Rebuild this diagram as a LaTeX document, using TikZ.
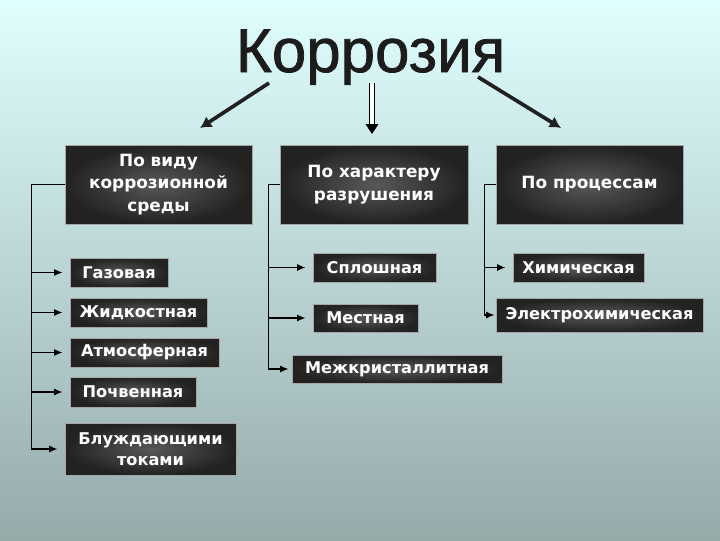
\documentclass[tikz,border=0pt]{standalone}
\usepackage{fontspec}
\setmainfont{DejaVu Sans}
\newfontfamily\titlefont[FakeBold=1.2]{Liberation Sans}
\usetikzlibrary{arrows.meta}

\definecolor{bgtop}{RGB}{224,255,255}
\definecolor{bgbot}{RGB}{150,170,170}
\definecolor{boxin}{RGB}{88,88,88}
\definecolor{boxout}{RGB}{34,34,34}
\newcommand\pxu{0.025cm}

\tikzset{
  box/.style={inner color=boxin, outer color=boxout, draw=gray!70,
    line width=0.6pt, text=white, align=center, inner sep=0pt,
    font=\bfseries\fontsize{11.5}{15}\selectfont},
  headbox/.style={box, minimum height=79*\pxu,
    font=\bfseries\fontsize{12}{16}\selectfont},
  conn/.style={line width=1pt, -{Latex[length=6pt,width=5pt]}, shorten >=7*\pxu},
  bigarrow/.style={line width=2.6pt, gray!25!black, -{Latex[length=8pt,width=9pt]}}
}

\begin{document}
\begin{tikzpicture}[x=\pxu, y=-\pxu]
    % Background
    \shade[top color=bgtop, bottom color=bgbot] (0,0) rectangle (720,540);

    % Title
    \node (title) at (370.5,72) [anchor=base, text=gray!22!black,
        font=\titlefont\fontsize{44}{48}\selectfont] {Коррозия};

    % Title arrows
    \coordinate (t1) at (269,83);
    \coordinate (a1) at (200,128);
    \coordinate (t2) at (372,83);
    \coordinate (a2) at (372,134);
    \coordinate (t3) at (478,77);
    \coordinate (a3) at (561,128);
    \draw[bigarrow] (t1) -- (a1);
    \draw[bigarrow] (t3) -- (a3);
    \draw[double, double distance=3pt, line width=0.7pt, -{Triangle[length=7pt,width=9pt]}] (t2) -- (a2);

    % Heads of the three groups
    \node (vid) at (158.5,184.5) [headbox, minimum width=187*\pxu] {По виду\\коррозионной\\среды};
    \node (har) at (374,184.5) [headbox, minimum width=188*\pxu] {По характеру\\разрушения};
    \node (proc) at (589.5,184.5) [headbox, minimum width=187*\pxu] {По процессам};

    % First group
    \node (gaz) at (119,272.5) [box, minimum width=98*\pxu, minimum height=29*\pxu] {Газовая};
    \node (zhid) at (138.5,312.5) [box, minimum width=137*\pxu, minimum height=29*\pxu] {Жидкостная};
    \node (atm) at (144.5,352.5) [box, minimum width=149*\pxu, minimum height=29*\pxu] {Атмосферная};
    \node (poch) at (133,392) [box, minimum width=126*\pxu, minimum height=30*\pxu] {Почвенная};
    \node (bluzh) at (150.5,449) [box, minimum width=171*\pxu, minimum height=52*\pxu] {Блуждающими\\токами};

    % Second group
    \node (splosh) at (374.5,267.5) [box, minimum width=123*\pxu, minimum height=29*\pxu] {Сплошная};
    \node (mest) at (365.5,318) [box, minimum width=105*\pxu, minimum height=28*\pxu] {Местная};
    \node (mezh) at (397,369) [box, minimum width=210*\pxu, minimum height=28*\pxu] {Межкристаллитная};

    % Third group
    \node (him) at (578.5,267.5) [box, minimum width=131*\pxu, minimum height=29*\pxu] {Химическая};
    \node (elek) at (599.5,315) [box, minimum width=207*\pxu, minimum height=34*\pxu] {Электрохимическая};

    % Connectors
    \foreach \n in {gaz,zhid,atm,poch,bluzh}
        \draw[conn] (vid.west) -- ++(-33,0) |- (\n.west);
    \foreach \n in {splosh,mest}
        \draw[conn] (har.west) -- ++(-11,0) |- (\n.west);
    \draw[conn, shorten >=3*\pxu] (har.west) -- ++(-11,0) |- (mezh.west);
    \draw[conn] (proc.west) -- ++(-11,0) |- (him.west);
    \draw[conn, shorten >=1*\pxu] (proc.west) -- ++(-11,0) |- (elek.west);

\end{tikzpicture}
\end{document}
